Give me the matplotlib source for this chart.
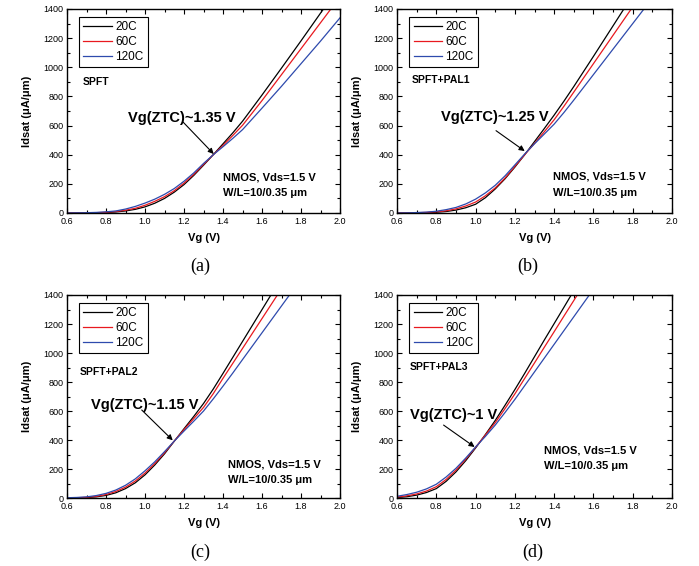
import matplotlib
matplotlib.use('Agg')
import matplotlib.pyplot as plt
from matplotlib.ticker import MultipleLocator

plt.rcParams['font.family'] = ['Liberation Sans', 'DejaVu Sans']

# gate voltage grid (V)
vg = [0.6, 0.65, 0.7, 0.75, 0.8, 0.85, 0.9, 0.95, 1.0, 1.05, 1.1, 1.15, 1.2, 1.25,
      1.3, 1.35, 1.4, 1.45, 1.5, 1.6, 1.7, 1.8, 1.9, 2.0]
temps = ['20C', '60C', '120C']
colors = ['black', '#e8191f', '#2e4aad']

# Idsat (uA/um)
spft_20 = [0, 0, 0, 1, 3, 7, 14, 25, 42, 67, 100, 143, 195, 258, 328, 400, 475, 550,
           630, 810, 995, 1182, 1372, 1560]
spft_60 = [0, 0, 1, 2, 5, 10, 19, 32, 53, 80, 112, 153, 205, 265, 333, 400, 464, 532,
           602, 772, 950, 1128, 1306, 1484]
spft_120 = [0, 1, 2, 4, 8, 14, 27, 45, 68, 95, 128, 168, 218, 275, 340, 400, 455, 512,
            572, 720, 870, 1025, 1180, 1340]

pal1_20 = [0, 0, 1, 2, 5, 10, 20, 36, 60, 105, 165, 235, 315, 400, 490, 580, 672, 768,
           868, 1075, 1285, 1495, 1705, 1915]
pal1_60 = [0, 1, 2, 4, 8, 15, 28, 48, 75, 118, 172, 240, 320, 400, 478, 558, 640, 733,
           830, 1025, 1220, 1415, 1612, 1808]
pal1_120 = [0, 1, 3, 6, 12, 23, 38, 62, 95, 138, 190, 255, 330, 405, 475, 542, 610, 690,
            775, 950, 1125, 1300, 1475, 1650]

pal2_20 = [0, 1, 3, 8, 18, 36, 65, 105, 160, 228, 305, 392, 478, 563, 652, 752, 860, 970,
           1080, 1300, 1520, 1740, 1960, 2180]
pal2_60 = [1, 2, 5, 11, 24, 45, 75, 117, 172, 238, 312, 393, 472, 548, 625, 720, 826, 929,
           1032, 1238, 1444, 1650, 1856, 2062]
pal2_120 = [2, 4, 8, 17, 32, 55, 88, 132, 188, 250, 320, 393, 462, 530, 600, 684, 772, 862,
            955, 1140, 1325, 1510, 1695, 1880]

pal3_20 = [3, 9, 20, 38, 65, 115, 180, 258, 345, 438, 535, 640, 748, 860, 975, 1090, 1203,
           1316, 1430, 1657, 1884, 2111, 2338, 2565]
pal3_60 = [6, 15, 28, 48, 78, 128, 192, 268, 350, 435, 520, 617, 718, 825, 932, 1040, 1147,
           1255, 1362, 1577, 1792, 2007, 2222, 2437]
pal3_120 = [12, 24, 40, 63, 95, 145, 205, 276, 352, 425, 503, 590, 680, 775, 870, 965, 1060,
            1155, 1250, 1440, 1630, 1820, 2010, 2200]

panels = [
    dict(curves=[spft_20, spft_60, spft_120], name='SPFT', ztc='Vg(ZTC)~1.35 V',
         rect=[0.0959, 0.6237, 0.3906, 0.3604], name_pos=(0.059, 0.642),
         ztc_pos=(0.913, 652), tail=(1.195, 624), head=(1.352, 405),
         nmos_pos=(0.571, 0.176), cap='(a)', cap_pos=(0.286, 0.529)),
    dict(curves=[pal1_20, pal1_60, pal1_120], name='SPFT+PAL1', ztc='Vg(ZTC)~1.25 V',
         rect=[0.5680, 0.6237, 0.3934, 0.3604], name_pos=(0.053, 0.652),
         ztc_pos=(0.822, 661), tail=(1.104, 565), head=(1.250, 425),
         nmos_pos=(0.568, 0.178), cap='(b)', cap_pos=(0.755, 0.529)),
    dict(curves=[pal2_20, pal2_60, pal2_120], name='SPFT+PAL2', ztc='Vg(ZTC)~1.15 V',
         rect=[0.0959, 0.1201, 0.3906, 0.3587], name_pos=(0.048, 0.619),
         ztc_pos=(0.722, 641), tail=(0.983, 607), head=(1.142, 398),
         nmos_pos=(0.589, 0.167), cap='(c)', cap_pos=(0.286, 0.025)),
    dict(curves=[pal3_20, pal3_60, pal3_120], name='SPFT+PAL3', ztc='Vg(ZTC)~1 V',
         rect=[0.5680, 0.1201, 0.3934, 0.3587], name_pos=(0.047, 0.647),
         ztc_pos=(0.664, 572), tail=(0.837, 503), head=(0.995, 352),
         nmos_pos=(0.535, 0.236), cap='(d)', cap_pos=(0.762, 0.025)),
]

fig = plt.figure(figsize=(6.99, 5.66), dpi=100)

for p in panels:
    ax = fig.add_axes(p['rect'])
    for vals, t, c in zip(p['curves'], temps, colors):
        ax.plot(vg, vals, color=c, lw=0.9, label=t)
    ax.set_xlim(0.6, 2.0)
    ax.set_ylim(0, 1400)
    ax.xaxis.set_major_locator(MultipleLocator(0.2))
    ax.xaxis.set_minor_locator(MultipleLocator(0.1))
    ax.yaxis.set_major_locator(MultipleLocator(200))
    ax.yaxis.set_minor_locator(MultipleLocator(100))
    ax.xaxis.set_major_formatter(plt.FuncFormatter(lambda v, pos: '%.1f' % v))
    ax.tick_params(which='both', direction='in', top=True, right=True, labelsize=6.5,
                   width=0.8, pad=2.5)
    ax.tick_params(axis='x', pad=3.2)
    ax.tick_params(which='major', length=3.5)
    ax.tick_params(which='minor', length=2)
    for s in ax.spines.values():
        s.set_linewidth(1.0)
    ax.set_xlabel('Vg (V)', fontsize=8, fontweight='bold', labelpad=5)
    ax.set_ylabel('Idsat (\u03bcA/\u03bcm)', fontsize=8, fontweight='bold', labelpad=8)

    leg = ax.legend(loc='upper left', bbox_to_anchor=(0.045, 0.962), fontsize=8.5,
                    handlelength=2.4, handletextpad=0.3, borderpad=0.35,
                    labelspacing=0.25, fancybox=False, framealpha=1,
                    edgecolor='black', borderaxespad=0)
    leg.get_frame().set_linewidth(0.8)

    ax.text(p['name_pos'][0], p['name_pos'][1], p['name'], transform=ax.transAxes,
            fontsize=7.5, fontweight='bold', va='center', ha='left')
    ax.text(p['ztc_pos'][0], p['ztc_pos'][1], p['ztc'], fontsize=10.5,
            fontweight='bold', va='center', ha='left')
    ax.annotate('', xy=p['head'], xytext=p['tail'],
                arrowprops=dict(arrowstyle='-|>', color='black', lw=0.8,
                                mutation_scale=8, shrinkA=0, shrinkB=0))
    nx, ny = p['nmos_pos']
    ax.text(nx, ny, 'NMOS, Vds=1.5 V', transform=ax.transAxes, fontsize=8,
            fontweight='bold', va='center', ha='left')
    ax.text(nx, ny - 0.078, 'W/L=10/0.35 \u03bcm', transform=ax.transAxes, fontsize=8,
            fontweight='bold', va='center', ha='left')

    fig.text(p['cap_pos'][0], p['cap_pos'][1], p['cap'], fontsize=13,
             family='Liberation Serif', ha='center', va='center')

fig.savefig('out.png', dpi=100)
